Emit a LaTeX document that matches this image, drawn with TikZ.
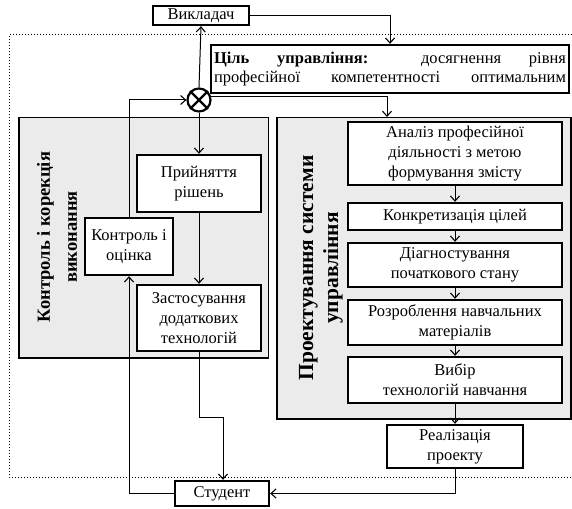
\documentclass[tikz,border=0pt]{standalone}
\usepackage{fontspec}
\setmainfont{Liberation Serif}
\usetikzlibrary{arrows.meta,calc}
\begin{document}
\begin{tikzpicture}[x=1pt,y=-1pt,
  every node/.style={font=\fontsize{16.5}{20}\selectfont},
  box/.style={draw, line width=2.4pt, fill=white, inner sep=0pt, align=center},
  panel/.style={fill=black!8, draw=black, line width=0.7pt},
  conn/.style={line width=1pt},
  arr/.style={conn, -{Straight Barb[length=5pt,width=9pt,line width=1.1pt]}},
  vlabel/.style={rotate=90, align=center, font=\bfseries\fontsize{18.5}{27}\selectfont}
]
\useasboundingbox (0,0) rectangle (572,508);
% dotted frame
\draw[dotted, line width=1pt] (572,35) -- (9,35) -- (9,477) -- (572,477);
% panels
\node[panel, minimum width=249, minimum height=241, inner sep=0pt] (lpanel) at (143.5,237.5) {};
\draw[line width=2.2pt] (lpanel.north west) -- (lpanel.south west) -- (lpanel.south east);
\node[panel, minimum width=294, minimum height=302, inner sep=0pt] (rpanel) at (424,268) {};
\draw[line width=2.2pt] (rpanel.north west) -- (rpanel.south west) -- (rpanel.south east) -- (rpanel.north east);
\node[vlabel] (lt) at (57,237) {Контроль і корекція\\виконання};
\node[vlabel, font=\bfseries\fontsize{21.5}{25}\selectfont] (rt) at (321,268) {Проектування системи\\управління};
% top
\node[box, minimum width=96, minimum height=19] (vykl) at (201,15.5) {Викладач};
\node[box, minimum width=358, minimum height=48] (goal) at (390,69) {%
  \makebox[352pt][s]{\textbf{Ціль управління:} досягнення рівня}\\[-1pt]
  \makebox[352pt][s]{професійної компетентності оптимальним}};
\node[draw, circle, line width=2.2pt, minimum size=23, inner sep=0pt, fill=white] (circ) at (199,100) {};
\draw[line width=2.2pt] (circ.north east) -- (circ.south west) (circ.north west) -- (circ.south east);
% left panel boxes
\node[box, minimum width=124, minimum height=57] (prin) at (199,183.5) {Прийняття\\рішень};
\node[box, minimum width=124, minimum height=66] (zast) at (199,318) {Застосування\\додаткових\\технологій};
% right boxes
\node[box, minimum width=214, minimum height=63] (anal) at (455,153.5) {Аналіз професійної\\діяльності з метою\\формування змісту};
\node[box, minimum width=214, minimum height=27] (konk) at (455,216.5) {Конкретизація цілей};
\node[box, minimum width=214, minimum height=44] (diag) at (455,265) {Діагностування\\початкового стану};
\node[box, minimum width=214, minimum height=45] (rozr) at (455,322.5) {Розроблення навчальних\\матеріалів};
\node[box, minimum width=214, minimum height=46] (vyb) at (455,380) {Вибір\\технологій навчання};
\node[box, minimum width=136, minimum height=43] (real) at (455,446.5) {Реалізація\\проекту};
\node[box, minimum width=94, minimum height=25] (stud) at (222,493.5) {Студент};
% connectors
\coordinate (rp) at (387,117);
\coordinate (j1) at (223,417);
\draw[arr] (circ.north) -- (vykl.south);
\draw[arr] (vykl.east) -| (goal.north);
\draw[arr] (circ.15) -| (rp);
\draw[arr] (circ.south) -- (prin.north);
\draw[arr] (prin.south) -- (zast.north);
\draw[arr] (zast.south) |- (j1) -- (j1 |- stud.north);
\draw[arr] (real.south) |- (stud.east);
\draw[arr] (anal.south) -- (konk.north);
\draw[arr] (konk.south) -- (diag.north);
\draw[arr] (diag.south) -- (rozr.north);
\draw[arr] (rozr.south) -- (vyb.north);
\draw[arr] (vyb.south) -- (real.north);
\node[box, minimum width=88, minimum height=57] (kont) at (129,246.5) {Контроль і\\оцінка};
\draw[arr] (kont.north) |- (circ.west);
\draw[arr] (stud.west) -| (kont.south);
\end{tikzpicture}
\end{document}
